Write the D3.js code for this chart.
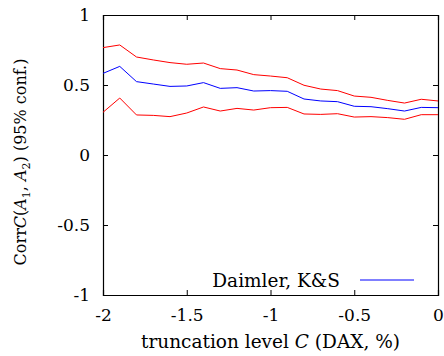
<!DOCTYPE html>
<html>
<head>
<meta charset="utf-8">
<script src="https://cdn.jsdelivr.net/npm/d3@7"></script>
<style>
  body { margin: 0; background: #fff; }
  svg { display: block; }
  text { font-family: "DejaVu Serif", serif; fill: #000; }
</style>
</head>
<body>
<svg id="chart" width="444" height="356"></svg>
<script>
// truncation levels (x) and correlation with 95% confidence band
const levels = [-2.0, -1.9, -1.8, -1.7, -1.6, -1.5, -1.4, -1.3, -1.2, -1.1, -1.0,
                -0.9, -0.8, -0.7, -0.6, -0.5, -0.4, -0.3, -0.2, -0.1, 0.0];
const corr  = [0.583, 0.633, 0.524, 0.507, 0.490, 0.493, 0.517, 0.476, 0.481, 0.457, 0.460,
               0.455, 0.400, 0.386, 0.381, 0.348, 0.345, 0.331, 0.314, 0.340, 0.338];
const upper = [0.767, 0.786, 0.700, 0.679, 0.660, 0.648, 0.657, 0.617, 0.607, 0.574, 0.564,
               0.552, 0.498, 0.471, 0.460, 0.421, 0.412, 0.390, 0.371, 0.398, 0.386];
const lower = [0.305, 0.407, 0.286, 0.283, 0.274, 0.300, 0.343, 0.314, 0.333, 0.321, 0.338,
               0.340, 0.293, 0.290, 0.295, 0.271, 0.274, 0.267, 0.255, 0.288, 0.288];
const xTicks = [-2, -1.5, -1, -0.5, 0];
const yTicks = [-1, -0.5, 0, 0.5, 1];
const legendLabel = 'Daimler, K&S';

const FONT = '"DejaVu Serif", serif';
const svg = d3.select('#chart');
const plot = { left: 103, right: 438, top: 15, bottom: 295 };

const x = d3.scaleLinear().domain([-2, 0]).range([plot.left, plot.right]);
const y = d3.scaleLinear().domain([-1, 1]).range([plot.bottom, plot.top]);
const fmt = d => String(d).replace('\u2212', '-');

// 坐标轴（刻度朝内，四边都有）
const tick = 5;
svg.append('g').attr('transform', `translate(0,${plot.bottom})`)
  .call(d3.axisBottom(x).tickValues(xTicks).tickSize(-tick).tickPadding(14).tickFormat(fmt));
svg.append('g').attr('transform', `translate(0,${plot.top})`)
  .call(d3.axisTop(x).tickValues(xTicks).tickSize(-tick).tickFormat(''));
svg.append('g').attr('transform', `translate(${plot.left},0)`)
  .call(d3.axisLeft(y).tickValues(yTicks).tickSize(-tick).tickPadding(13).tickFormat(fmt));
svg.append('g').attr('transform', `translate(${plot.right},0)`)
  .call(d3.axisRight(y).tickValues(yTicks).tickSize(-tick).tickFormat(''));

svg.selectAll('g').attr('font-family', FONT);
svg.selectAll('.domain').attr('stroke', '#000').attr('stroke-width', 1.2);
svg.selectAll('.tick line').attr('stroke', '#000').attr('stroke-width', 1);
svg.selectAll('.tick text')
  .style('font-family', FONT)
  .style('font-size', '17px')
  .attr('fill', '#000');

// 数据线
const line = vals => d3.line()
  .x((d, i) => x(levels[i]))
  .y(d => y(d))(vals);

[[upper, '#ff0000'], [lower, '#ff0000'], [corr, '#0000ff']].forEach(([vals, col]) => {
  svg.append('path')
    .attr('d', line(vals))
    .attr('fill', 'none')
    .attr('stroke', col)
    .attr('stroke-width', 1);
});

// 图例
svg.append('text')
  .attr('x', 340).attr('y', 287)
  .attr('text-anchor', 'end')
  .style('font-size', '18.5px')
  .text(legendLabel);
svg.append('line')
  .attr('x1', 360).attr('x2', 414)
  .attr('y1', 280).attr('y2', 280)
  .attr('stroke', '#0000ff').attr('stroke-width', 1);

// x 轴标题
const xl = svg.append('text')
  .attr('x', (plot.left + plot.right) / 2).attr('y', 348)
  .attr('text-anchor', 'middle')
  .style('font-size', '18.5px');
xl.append('tspan').text('truncation level ');
xl.append('tspan').style('font-style', 'italic').text('C');
xl.append('tspan').text(' (DAX, %)');

// y 轴标题
const yl = svg.append('text')
  .attr('transform', 'translate(26,162) rotate(-90)')
  .attr('text-anchor', 'middle')
  .style('font-size', '16px');
yl.append('tspan').text('Corr');
yl.append('tspan').style('font-style', 'italic').text('C');
yl.append('tspan').text('(');
yl.append('tspan').style('font-style', 'italic').text('A');
yl.append('tspan').attr('dy', 4).style('font-size', '11px').text('1');
yl.append('tspan').attr('dy', -4).text(', ');
yl.append('tspan').style('font-style', 'italic').text('A');
yl.append('tspan').attr('dy', 4).style('font-size', '11px').text('2');
yl.append('tspan').attr('dy', -4).text(') (95% conf.)');
</script>
</body>
</html>
